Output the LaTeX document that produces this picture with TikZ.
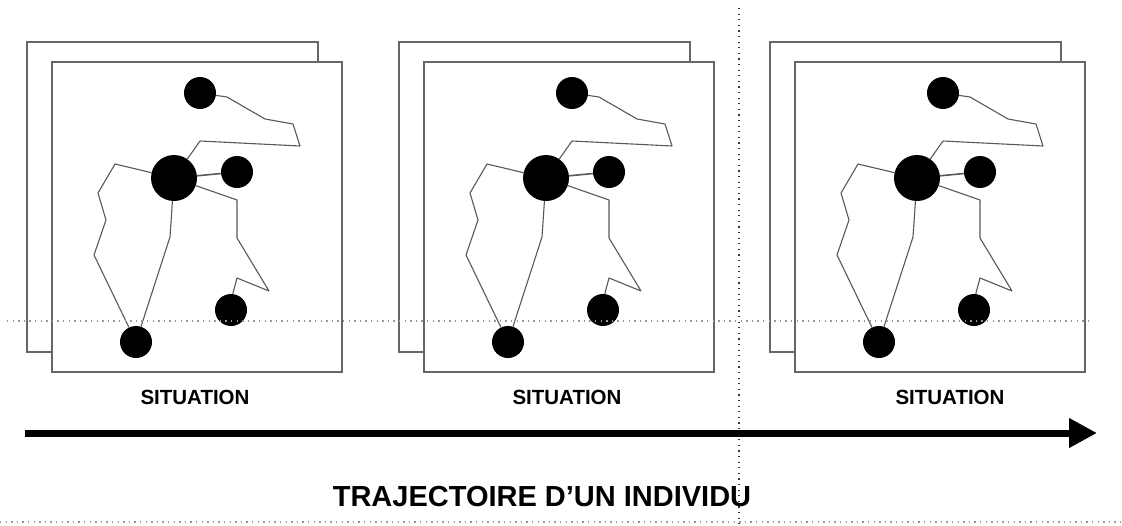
\documentclass[tikz,border=0pt]{standalone}
\usepackage{fontspec}
\setmainfont{Liberation Sans}
\usetikzlibrary{arrows.meta}
\begin{document}
\begin{tikzpicture}[x=1pt,y=-1pt,
  frame/.style={draw=black!60, line width=1.6pt, fill=white},
  dot/.style={circle, fill=black, inner sep=0pt, minimum size=32pt},
  bigdot/.style={circle, fill=black, inner sep=0pt, minimum size=46pt},
  link/.style={draw=black!65, line width=1.1pt, line join=round},
  lbl/.style={font=\bfseries\fontsize{20.5}{24}\selectfont, inner sep=0pt},
  ttl/.style={font=\bfseries\fontsize{29}{34}\selectfont, inner sep=0pt},
  guide/.style={draw=black!40, line width=1.4pt, dash pattern=on 1.4pt off 4.2pt},
  vguide/.style={draw=black!80, line width=1.2pt, dash pattern=on 1.2pt off 4.4pt},
  flow/.style={line width=7pt, -{Triangle[length=28pt,width=28pt]}}]
\useasboundingbox (0,0) rectangle (1122,525);
\foreach \i/\dx/\lx in {1/0/195, 2/372/567, 3/743/950} {
  \begin{scope}[xshift=\dx]
    \draw[frame] (27,42) rectangle (318,352);
    \draw[frame] (52,62) rectangle (342,372);
    \node[dot] (top\i) at (200,93) {};
    \node[bigdot] (big\i) at (174,178) {};
    \node[dot] (rt\i) at (237,172) {};
    \node[dot] (lr\i) at (231,310) {};
    \node[dot] (bot\i) at (136,342) {};
    \draw[link] (top\i) -- (227,97) -- (265,119) -- (293,124) -- (300,146)
      -- (200,141) -- (188,158) -- (big\i);
    \draw[link, line width=1.6pt] (big\i) -- (rt\i);
    \draw[link] (big\i) -- (237,200) -- (237,238) -- (269,291) -- (237,278)
      -- (233,293) -- (lr\i);
    \draw[link] (big\i) -- (115,164) -- (98,193) -- (106,220) -- (94,255)
      -- (bot\i);
    \draw[link] (big\i) -- (170,237) -- (bot\i);
  \end{scope}
  \node[lbl] (lab\i) at (\lx,397) {SITUATION};
}
\coordinate (hs) at (7,321);
\coordinate (he) at (1093,321);
\draw[guide] (hs) -- (he);
\coordinate (vs) at (739,8);
\coordinate (ve) at (739,525);
\draw[vguide] (vs) -- (ve);
\coordinate (bs) at (0,522);
\coordinate (be) at (1122,522);
\draw[guide] (bs) -- (be);
\coordinate (as) at (25,433);
\coordinate (ae) at (1097,433);
\draw[flow] (as) -- (ae);
\node[ttl] (title) at (542,497) {TRAJECTOIRE D’UN INDIVIDU};
\end{tikzpicture}
\end{document}
